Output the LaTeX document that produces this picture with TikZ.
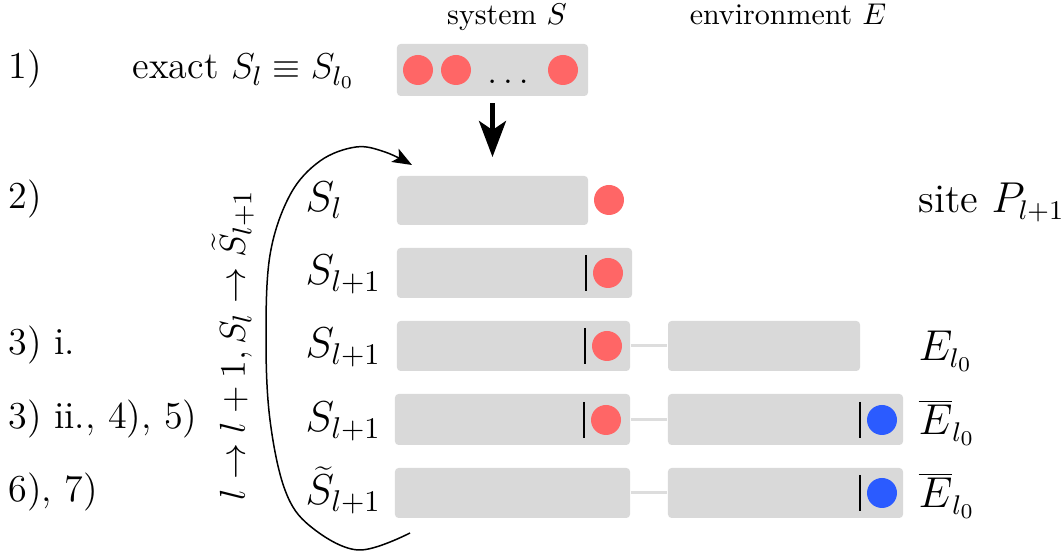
\documentclass[tikz,border=0pt]{standalone}
\usetikzlibrary{arrows.meta}
\definecolor{boxgray}{HTML}{D9D9D9}
\definecolor{dotred}{HTML}{FF6666}
\definecolor{dotblue}{HTML}{2B5BFF}
\definecolor{linkgray}{HTML}{DDDDDD}
\tikzset{
  sbox/.style 2 args={fill=boxgray, draw=none, rounded corners=1.2pt, minimum width=#1pt/3, minimum height=#2pt/3, inner sep=0pt},
  reddot/.style={circle, fill=dotred, inner sep=0pt, minimum size=10pt},
  bluedot/.style={circle, fill=dotblue, inner sep=0pt, minimum size=10pt},
  link/.style={draw=linkgray, line width=1pt},
  barline/.style={draw=black, line width=0.7pt},
  steplab/.style={anchor=base west, inner sep=0pt, font=\fontsize{12.7}{15}\selectfont},
  slab/.style={anchor=base west, inner sep=0pt, font=\fontsize{13.7}{16}\selectfont},
  elab/.style={anchor=base west, inner sep=0pt, font=\fontsize{13.5}{16}\selectfont},
  hdr/.style={anchor=base, inner sep=0pt, font=\fontsize{10}{12}\selectfont},
  bigarrow/.style={line width=1.4pt, -{Stealth[length=12pt, width=9pt, inset=3pt]}},
  curvearrow/.style={line width=0.5pt, -{Stealth[length=6.5pt, width=5pt, inset=1.5pt]}}
}
\begin{document}
\begin{tikzpicture}[x=0.33333pt, y=-0.33333pt]
\useasboundingbox (0,0) rectangle (1064,553);

% headers
\node[hdr] (hs) at (507,25) {system $S$};
\node[hdr] (he) at (788,25) {environment $E$};

% step labels
\node[steplab] (l1) at (8,79) {1)};
\node[steplab] (l2) at (8,209) {2)};
\node[steplab] (l3) at (8,355) {3) i.};
\node[steplab] (l4) at (8,429) {3) ii., 4), 5)};
\node[steplab] (l5) at (8,502) {6), 7)};
\node[steplab] (ex) at (132,79) {exact $S_l \equiv S_{l_0}$};

% top box
\node[sbox={191}{52}] (top) at (492.5,70) {};
\node[reddot] (t1) at (418,70) {};
\node[reddot] (t2) at (456,70) {};
\node[reddot] (t3) at (563,70) {};
\node[anchor=base, inner sep=0pt, font=\fontsize{13}{15}\selectfont] (tdots) at (508,84) {$\ldots$};

% arrow down
\coordinate (tip) at (492.5,157);
\draw[bigarrow, shorten <=2.3pt] (top.south) -- (tip);

% row 2
\node[sbox={191}{49}] (b2) at (492.5,200.5) {};
\node[reddot] (c2) at (609,200) {};
\node[slab] (s2) at (305,212) {$S_l$};
\node[elab] (p2) at (918,213) {site $P_{l+1}$};

% row 3
\node[sbox={235}{50}] (b3) at (514.5,273) {};
\node[reddot] (c3) at (608,273) {};
\draw[barline] (c3.west) ++(-2pt,6pt) -- ++(0,-12pt);
\node[slab] (s3) at (305,285) {$S_{l+1}$};

% row 4
\node[sbox={233}{50}] (b4) at (513.5,346) {};
\node[sbox={192}{50}] (e4) at (764,346) {};
\draw[link] (b4.east) -- (e4.west);
\node[reddot] (c4) at (607,346) {};
\draw[barline] (c4.west) ++(-2pt,6pt) -- ++(0,-12pt);
\node[slab] (s4) at (305,358) {$S_{l+1}$};
\node[elab] (el4) at (918,361) {$E_{l_0}$};

% row 5
\node[sbox={235}{51}] (b5) at (512.5,419.5) {};
\node[sbox={235}{51}] (e5) at (785.5,419.5) {};
\draw[link] (b5.east) -- (e5.west);
\node[reddot] (c5) at (606,420) {};
\draw[barline] (c5.west) ++(-2pt,6pt) -- ++(0,-12pt);
\node[bluedot] (d5) at (882,420) {};
\draw[barline] (d5.west) ++(-2pt,6pt) -- ++(0,-12pt);
\node[slab] (s5) at (305,432) {$S_{l+1}$};
\node[elab] (el5) at (918,435) {$\overline{E}_{l_0}$};

% row 6
\node[sbox={235}{50}] (b6) at (512.5,493) {};
\node[sbox={235}{50}] (e6) at (785.5,493) {};
\draw[link] (b6.east) -- (e6.west);
\node[bluedot] (d6) at (882,493) {};
\draw[barline] (d6.west) ++(-2pt,6pt) -- ++(0,-12pt);
\node[slab] (s6) at (305,505) {$\widetilde{S}_{l+1}$};
\node[elab] (el6) at (918,508) {$\overline{E}_{l_0}$};

% loop label
\node[rotate=90, anchor=base, inner sep=0pt, font=\fontsize{12.8}{15}\selectfont] (loop) at (245,345) {$l \to l+1, S_l \to \widetilde{S}_{l+1}$};

% loop curve
\coordinate (cs) at (410,533);
\coordinate (ce) at (412,165);
\draw[curvearrow] plot[smooth, tension=0.6] coordinates {(cs) (358,550) (310,526) (285,490) (270,420) (266,340) (270,255) (290,195) (320,161) (356,147) (385,152) (ce)};
\end{tikzpicture}
\end{document}
